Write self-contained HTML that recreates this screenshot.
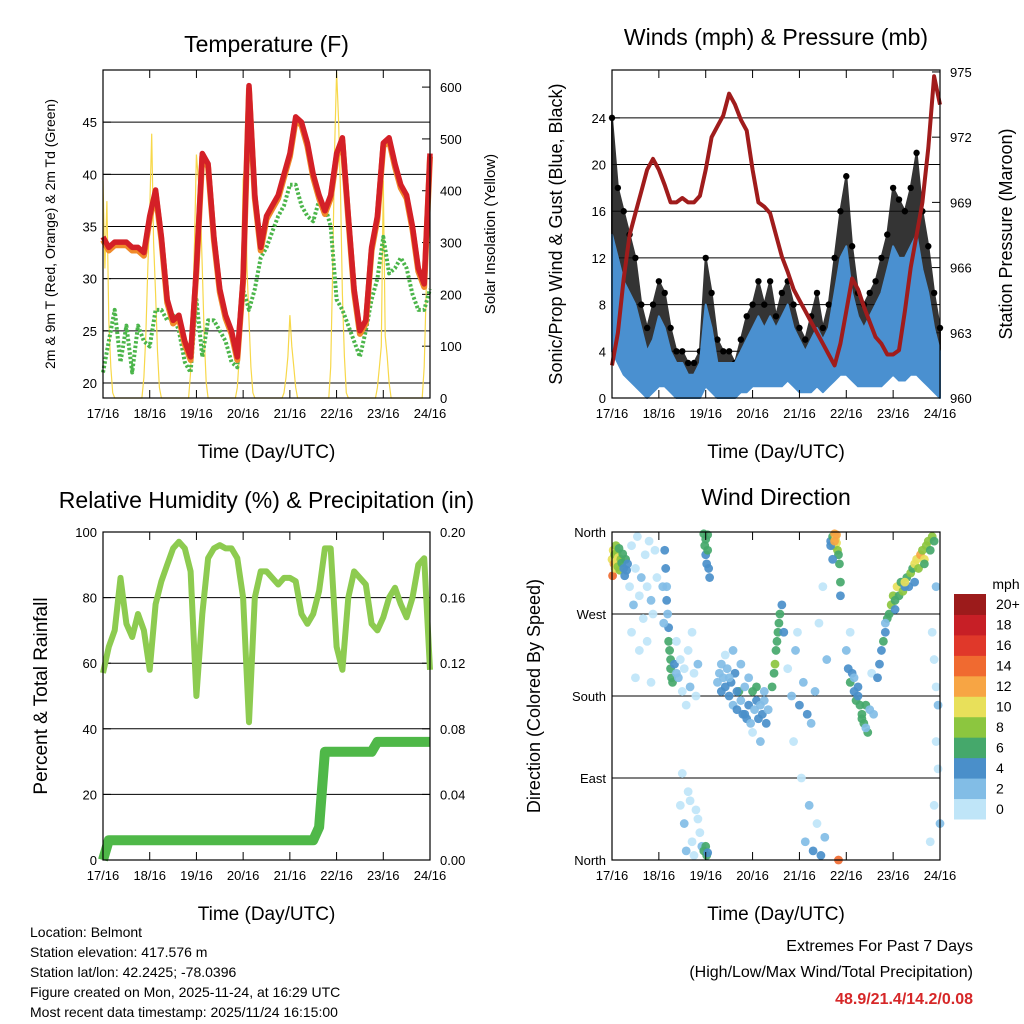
<!DOCTYPE html>
<html><head><meta charset="utf-8"><style>
html,body{margin:0;padding:0;background:#fff;}
svg{display:block;font-family:"Liberation Sans",sans-serif;}
</style></head><body>
<svg id="fig" width="1024" height="1024" viewBox="0 0 1024 1024"></svg>
<script>
const hours3=[0,3,6,9,12,15,18,21,24,27,30,33,36,39,42,45,48,51,54,57,60,63,66,69,72,75,78,81,84,87,90,93,96,99,102,105,108,111,114,117,120,123,126,129,132,135,138,141,144,147,150,153,156,159,162,165,168];
const dayLabels=["17/16","18/16","19/16","20/16","21/16","22/16","23/16","24/16"];
const tempRed=[34,33,33.5,33.5,33.5,33,33,32.5,36,38.5,34,28,26,26.5,24,22.5,31,42,41,34,29,26.5,25,22.5,30,48.5,38,33,36,37,38,40,42,45.5,45,43,40,38,36.5,38,42,43.5,36,29,25,26,33,36,43,43.5,41,39,38,35,31,29.5,42];
const tempGreen=[21,24,27,22,25.5,21,25.5,24,23.5,27,27,26,26.5,25,22,21,28,22.5,26,26,25,24,22,21.5,29,27,29,32,33,34.5,36,37,39,39,37,36,35.5,37.5,37,35,28,27,25.5,24,22.5,25,28,30,34,30.5,31,32,31,28.5,27,27,29];
const solarT=[0,1,2,3,4,5,6, 20,21,22,23,24,25,26,27,28,29,30, 44,45,46,47,48,49,50,51,52,53,54, 68,69,70,71,72,73,74,75,76,77,78, 92,93,94,95,96,97,98,99,100, 116,117,118,119,120,121,122,123,124,125,126, 140,141,142,143,144,145,146,147,148, 164,165,166,167,168];
const solarV=[420,250,380,150,60,10,0, 0,40,120,250,360,510,300,200,90,20,0, 0,50,160,300,470,420,380,250,120,30,0, 0,20,80,200,420,460,250,150,60,10,0, 0,10,40,80,160,100,60,20,0, 0,60,250,480,630,540,400,200,80,10,0, 0,20,60,100,420,120,80,30,0, 0,60,200,450,380];
const gust=[24,18,16,14,12,8,6,8,10,9,6,4,4,3,3,4,12,9,5,4,4,3,5,7,8,10,8,10,7,9,10,8,6,5,7,9,6,8,12,16,19,13,9,8,9,10,12,14,18,17,16,18,21,16,13,9,6];
const windHi=[14,12,10,9,8,6,4,5,7,6,4,3,3,2,2,3,8,6,3,3,3,3,4,5,6,7,6,7,6,7,8,6,5,4,5,6,5,6,9,12,13,9,7,6,7,8,9,11,13,12,12,13,14,11,9,6,4];
const windLo=[4,3,2,1.5,1,0.5,0,0.5,1,1,0.5,0,0,0,0,0,1,0.5,0,0,0,0,0.5,0.5,1,1,1,1,1,1,1.5,1,0.5,0.5,0.5,1,0.5,1,1.5,2,2,1.5,1,1,1,1,1,1.5,2,1.5,1.5,2,2,1.5,1,0.5,0];
const pressure=[961.5,963,965.5,967.5,968.5,969.5,970.5,971,970.5,969.8,969,969,969.2,969,969,969.3,970.5,972,972.5,973,974,973.5,972.8,972.3,970.5,969,968.8,968.5,967.5,966.5,965.8,965,964.5,964,963.5,963,962.5,962,961.5,962.5,964,965.5,965,964.2,963.5,962.8,962.5,962,962,962.2,964,966,967.5,969,971.5,974.8,973.5];
const rh=[57,65,70,86,72,68,75,70,58,78,85,90,95,97,95,88,50,75,92,95,96,95,95,92,80,42,80,88,88,86,84,86,86,85,75,72,75,82,95,95,65,58,80,88,86,84,72,70,74,80,83,78,74,80,90,92,58];
const precip=[0,0.012,0.012,0.012,0.012,0.012,0.012,0.012,0.012,0.012,0.012,0.012,0.012,0.012,0.012,0.012,0.012,0.012,0.012,0.012,0.012,0.012,0.012,0.012,0.012,0.012,0.012,0.012,0.012,0.012,0.012,0.012,0.012,0.012,0.012,0.012,0.012,0.02,0.066,0.066,0.066,0.066,0.066,0.066,0.066,0.066,0.066,0.072,0.072,0.072,0.072,0.072,0.072,0.072,0.072,0.072,0.072];
const dirT=[0,0.3,0.6,1,1.3,1.6,2,2.3,2.6,3,3.3,3.6,4,4.5,5,5.5,6,6.5,7,7.5,8,
9,10,11,12,13,14,15,16,17,18,19,20,21,22,23,10,14,18,12,20,
27,27.5,28,28,28.5,29,29,29.5,30,30,30.5,31,26,26.5,32,33,
33,34,35,36,37,38,39,40,41,42,43,44,35,37,39,41,43,45,36,38,40,42,44,46,
47,47.5,48,48,48.5,49,49,49.5,50,47,48,48.5,49,
54,55,56,57,58,59,60,61,62,63,64,65,66,67,68,69,70,71,72,73,74,75,76,77,78,79,80,56,58,60,62,64,66,68,70,72,74,76,78,
82,83,83.5,84,84.5,85,85.5,86,87,88,
90,92,94,96,98,100,102,104,106,108,110,93,97,101,105,109,99,103,107,95,
112,113,113.5,114,114.5,115,115.5,116,116.5,117,117,112,113,116,115,114,
120,121,122,123,124,125,126,127,128,129,130,131,132,124,126,128,130,122,134,133,
136,137,138,139,140,141,142,143,144,145,146,147,148,149,150,151,152,153,154,155,156,157,158,159,160,161,162,163,164,165,140,145,150,155,160,
164,165,166,167,166,167,165,168,163,166];
const dirDeg=[330,312,340,325,335,320,345,328,338,322,332,342,318,330,326,336,320,312,330,318,325,
300,345,280,320,355,290,310,265,335,300,350,285,270,340,310,250,230,240,200,195,
340,320,300,285,270,255,240,230,220,210,200,195,300,260,215,205,
240,200,220,185,210,170,230,190,250,205,180,215,60,40,75,20,55,30,95,10,65,5,45,15,
358,345,352,335,325,357,340,320,310,10,15,5,8,
195,205,185,200,190,210,180,195,170,205,165,185,175,160,190,155,170,150,185,165,175,155,170,160,185,150,165,215,225,200,230,185,215,160,200,140,190,130,175,
190,205,215,230,240,250,260,270,280,250,
210,180,230,170,195,160,150,185,260,300,220,130,90,60,40,25,20,10,5,250,
350,355,345,358,352,348,340,335,325,305,290,345,330,0,357,350,
230,210,195,205,185,175,190,170,160,150,170,140,165,200,180,155,145,250,160,205,
200,215,230,240,250,265,270,280,290,285,300,290,305,295,300,310,300,315,320,325,330,320,335,340,330,345,350,340,355,350,260,275,305,305,325,
250,220,190,170,130,100,60,40,20,300];
const dirSpd=[11,15,10,12,9,10,8,11,9,8,10,7,8,9,7,6,5,4,6,4,5,
1,0,2,1,0,1,2,1,0,1,0,2,1,1,0,1,0,1,0,1,
4,4,3,4,3,4,6,7,6,7,6,7,3,3,4,2,
1,2,1,0,1,1,0,2,1,1,0,2,1,2,0,1,1,0,1,2,0,1,1,3,
6,7,6,5,4,7,6,4,4,6,7,6,4,
3,3,4,3,4,3,4,5,3,4,4,7,3,4,3,5,4,3,6,3,4,4,3,5,3,4,3,2,1,3,2,4,2,5,3,1,6,2,3,
7,6,8,7,6,7,6,7,5,4,
1,3,2,4,3,4,3,2,1,1,2,1,0,3,1,3,2,4,4,0,
5,7,9,12,11,10,9,7,6,6,4,4,5,14,12,12,
3,4,6,5,4,6,4,7,7,6,7,6,3,3,4,6,3,1,2,1,
4,5,4,6,5,6,7,8,9,6,10,7,7,8,5,6,4,9,7,10,11,8,12,9,10,8,9,6,8,6,3,5,11,4,7,
1,0,1,2,0,1,1,2,0,3];
const speedLabels=["0","2","4","6","8","10","12","14","16","18","20+"];
const speedColors=["#bfe5f8","#82bde6","#4a8fca","#45a86b","#8cc63f","#e8e05a","#f7a544","#f06a30","#e0382a","#c71f26","#9c1b1b"];

const NS="http://www.w3.org/2000/svg";
const svg=document.getElementById('fig');
function el(tag,attrs,parent){const e=document.createElementNS(NS,tag);for(const k in attrs)e.setAttribute(k,attrs[k]);(parent||svg).appendChild(e);return e;}
function txt(s,attrs,parent){const e=el('text',attrs,parent);e.textContent=s;return e;}
function lin(d0,d1,r0,r1){return v=>r0+(v-d0)/(d1-d0)*(r1-r0);}

function panel(name,x0,x1,y0,y1){
  const g=el('g',{},svg);
  
  
  return {g,x0,x1,y0,y1,xs:lin(0,168,x0,x1)};
}
function frame(p){
  const f=el('rect',{x:p.x0,y:p.y0,width:p.x1-p.x0,height:p.y1-p.y0,fill:'none',stroke:'#000','stroke-width':1.2},p.g);
  
  
  const ax=el('g',{},p.g);
  
  
  dayLabels.forEach((lb,i)=>{
    const x=p.xs(i*24);
    el('line',{x1:x,x2:x,y1:p.y1,y2:p.y1-8,stroke:'#000','stroke-width':1},ax);
    el('line',{x1:x,x2:x,y1:p.y0,y2:p.y0+8,stroke:'#000','stroke-width':1},ax);
    const t=txt(lb,{x:x,y:p.y1+20,'font-size':13,'text-anchor':'middle'},ax);
    
    
  });
  const xl=txt('Time (Day/UTC)',{x:(p.x0+p.x1)/2,y:p.y1+60,'font-size':19,'text-anchor':'middle'},p.g);
  
  
}
function leftTicks(p,ys,vals,labels,grid){
  vals.forEach((v,i)=>{
    const y=ys(v);
    if(grid) el('line',{x1:p.x0,x2:p.x1,y1:y,y2:y,stroke:'#000','stroke-width':1},p.g);
    el('line',{x1:p.x0,x2:p.x0+8,y1:y,y2:y,stroke:'#000'},p.g);
    const t=txt(labels[i],{x:p.x0-6,y:y+5,'font-size':13,'text-anchor':'end'},p.g);
    
    
  });
}
function rightTicks(p,ys,vals,labels){
  vals.forEach((v,i)=>{
    const y=ys(v);
    el('line',{x1:p.x1,x2:p.x1-8,y1:y,y2:y,stroke:'#000'},p.g);
    const t=txt(labels[i],{x:p.x1+10,y:y+5,'font-size':13,'text-anchor':'start'},p.g);
    
    
  });
}
function title(p,s,y){const t=txt(s,{x:(p.x0+p.x1)/2,y:y,'font-size':23,'text-anchor':'middle'},p.g);}
function vlabel(p,s,x,size,name){const cy=(p.y0+p.y1)/2;const t=txt(s,{x:x,y:cy,'font-size':size,'text-anchor':'middle',transform:`rotate(-90 ${x} ${cy})`},p.g);}
function path(p,xsArr,ysArr,ysF,attrs,name){
  let d='';xsArr.forEach((t,i)=>{d+=(i?'L':'M')+p.xs(t).toFixed(1)+','+ysF(ysArr[i]).toFixed(1);});
  const e=el('path',Object.assign({d:d,fill:'none'},attrs),p.g);
  
  
  return e;
}
function band(p,lo,hi,ysF,fill,name,op){
  let d='';hours3.forEach((t,i)=>{d+=(i?'L':'M')+p.xs(t).toFixed(1)+','+ysF(hi[i]).toFixed(1);});
  for(let i=hours3.length-1;i>=0;i--){d+='L'+p.xs(hours3[i]).toFixed(1)+','+ysF(lo[i]).toFixed(1);}
  const e=el('path',{d:d+'Z',fill:fill,stroke:fill,'stroke-width':2,'stroke-linejoin':'round',opacity:op},p.g);
  
  
}

// ---- Panel 1: Temperature
const p1=panel('temperature-panel',103,430,70,398);
const t1=lin(18.56,50,398,70), s1=lin(0,633,398,70);
leftTicks(p1,t1,[20,25,30,35,40,45],["20","25","30","35","40","45"],true);
rightTicks(p1,s1,[0,100,200,300,400,500,600],["0","100","200","300","400","500","600"]);
path(p1,solarT,solarV,s1,{stroke:'#f7d84a','stroke-width':1.2},'solar-insolation-line');
path(p1,hours3,tempGreen,t1,{stroke:'#4bb54a','stroke-width':4,'stroke-dasharray':'2.5,2','stroke-linejoin':'round'},'dewpoint-2m-line');
path(p1,hours3,tempRed.map(v=>v-0.3),t1,{stroke:'#f08a2a','stroke-width':6,'stroke-linejoin':'round'},'temp-9m-line');
path(p1,hours3,tempRed,t1,{stroke:'#d42027','stroke-width':5.5,'stroke-linejoin':'round'},'temp-2m-line');
frame(p1);
title(p1,'Temperature (F)',52);
vlabel(p1,'2m & 9m T (Red, Orange) & 2m Td (Green)',55,14,'y-axis-title');
vlabel(p1,'Solar Insolation (Yellow)',495,15,'y2-axis-title');

// ---- Panel 2: Winds
const p2=panel('winds-panel',612,940,70,398);
const w2=lin(0,28.1,398,70), pr2=lin(960,975.09,398,70);
leftTicks(p2,w2,[0,4,8,12,16,20,24],["0","4","8","12","16","20","24"],true);
rightTicks(p2,pr2,[960,963,966,969,972,975],["960","963","966","969","972","975"]);
band(p2,windHi,gust,w2,'#111','gust-band',0.85);
hours3.forEach((t,i)=>{const c=el('circle',{cx:p2.xs(t),cy:w2(gust[i]),r:3.2,fill:'#000'},p2.g);

});
band(p2,windLo,windHi,w2,'#4a90d0','wind-speed-band',1);
path(p2,hours3,pressure,pr2,{stroke:'#a01c1c','stroke-width':4,'stroke-linejoin':'round'},'pressure-line');
frame(p2);
title(p2,'Winds (mph) & Pressure (mb)',45);
vlabel(p2,'Sonic/Prop Wind & Gust (Blue, Black)',562,18,'y-axis-title');
vlabel(p2,'Station Pressure (Maroon)',1012,18,'y2-axis-title');

// ---- Panel 3: RH & precip
const p3=panel('humidity-precip-panel',103,430,532,860);
const r3=lin(0,100,860,532), pc3=lin(0,0.2,860,532);
leftTicks(p3,r3,[0,20,40,60,80,100],["0","20","40","60","80","100"],true);
rightTicks(p3,pc3,[0,0.04,0.08,0.12,0.16,0.2],["0.00","0.04","0.08","0.12","0.16","0.20"]);
path(p3,hours3,rh,r3,{stroke:'#8dcb50','stroke-width':6,'stroke-linejoin':'round'},'relative-humidity-line');
path(p3,hours3,precip,pc3,{stroke:'#4fb848','stroke-width':10,'stroke-linejoin':'round'},'precipitation-line');
frame(p3);
title(p3,'Relative Humidity (%) & Precipitation (in)',508);
vlabel(p3,'Percent & Total Rainfall',47,19,'y-axis-title');

// ---- Panel 4: wind direction
const p4=panel('wind-direction-panel',612,940,532,860);
const d4=lin(0,360,860,532);
leftTicks(p4,d4,[0,90,180,270,360],["North","East","South","West","North"],true);
dirT.forEach((t,i)=>{
  const k=Math.min(10,Math.floor(dirSpd[i]/2));
  const c=el('circle',{cx:p4.xs(t),cy:d4(dirDeg[i]),r:4.4,fill:speedColors[k],opacity:0.92},p4.g);
  
  
});
frame(p4);
title(p4,'Wind Direction',505);
vlabel(p4,'Direction (Colored By Speed)',540,18,'y-axis-title');

// colorbar
const cb=el('g',{},svg);


const mphT=txt('mph',{x:1006,y:589,'font-size':14,'text-anchor':'middle'},cb);


const bh=(819-594)/11;
speedLabels.forEach((lb,i)=>{
  const y=594+(10-i)*bh;
  const r=el('rect',{x:954,y:y,width:32,height:bh+0.5,fill:speedColors[i]},cb);
  
  
  const t=txt(lb,{x:996,y:y+bh/2+5,'font-size':14,'text-anchor':'start'},cb);
  
  
});

// footer
const foot=el('g',{},svg);


["Location: Belmont","Station elevation: 417.576 m","Station lat/lon: 42.2425; -78.0396","Figure created on Mon, 2025-11-24, at 16:29 UTC","Most recent data timestamp: 2025/11/24 16:15:00"].forEach((s,i)=>{
  const t=txt(s,{x:30,y:937+i*20,'font-size':14},foot);
  
  
});
const ext=el('g',{},svg);


const e1=txt('Extremes For Past 7 Days',{x:973,y:951,'font-size':16,'text-anchor':'end'},ext);


const e2=txt('(High/Low/Max Wind/Total Precipitation)',{x:973,y:977,'font-size':16,'text-anchor':'end'},ext);


const e3=txt('48.9/21.4/14.2/0.08',{x:973,y:1004,'font-size':16,'font-weight':'bold',fill:'#d62728','text-anchor':'end'},ext);


</script>
</body></html>
